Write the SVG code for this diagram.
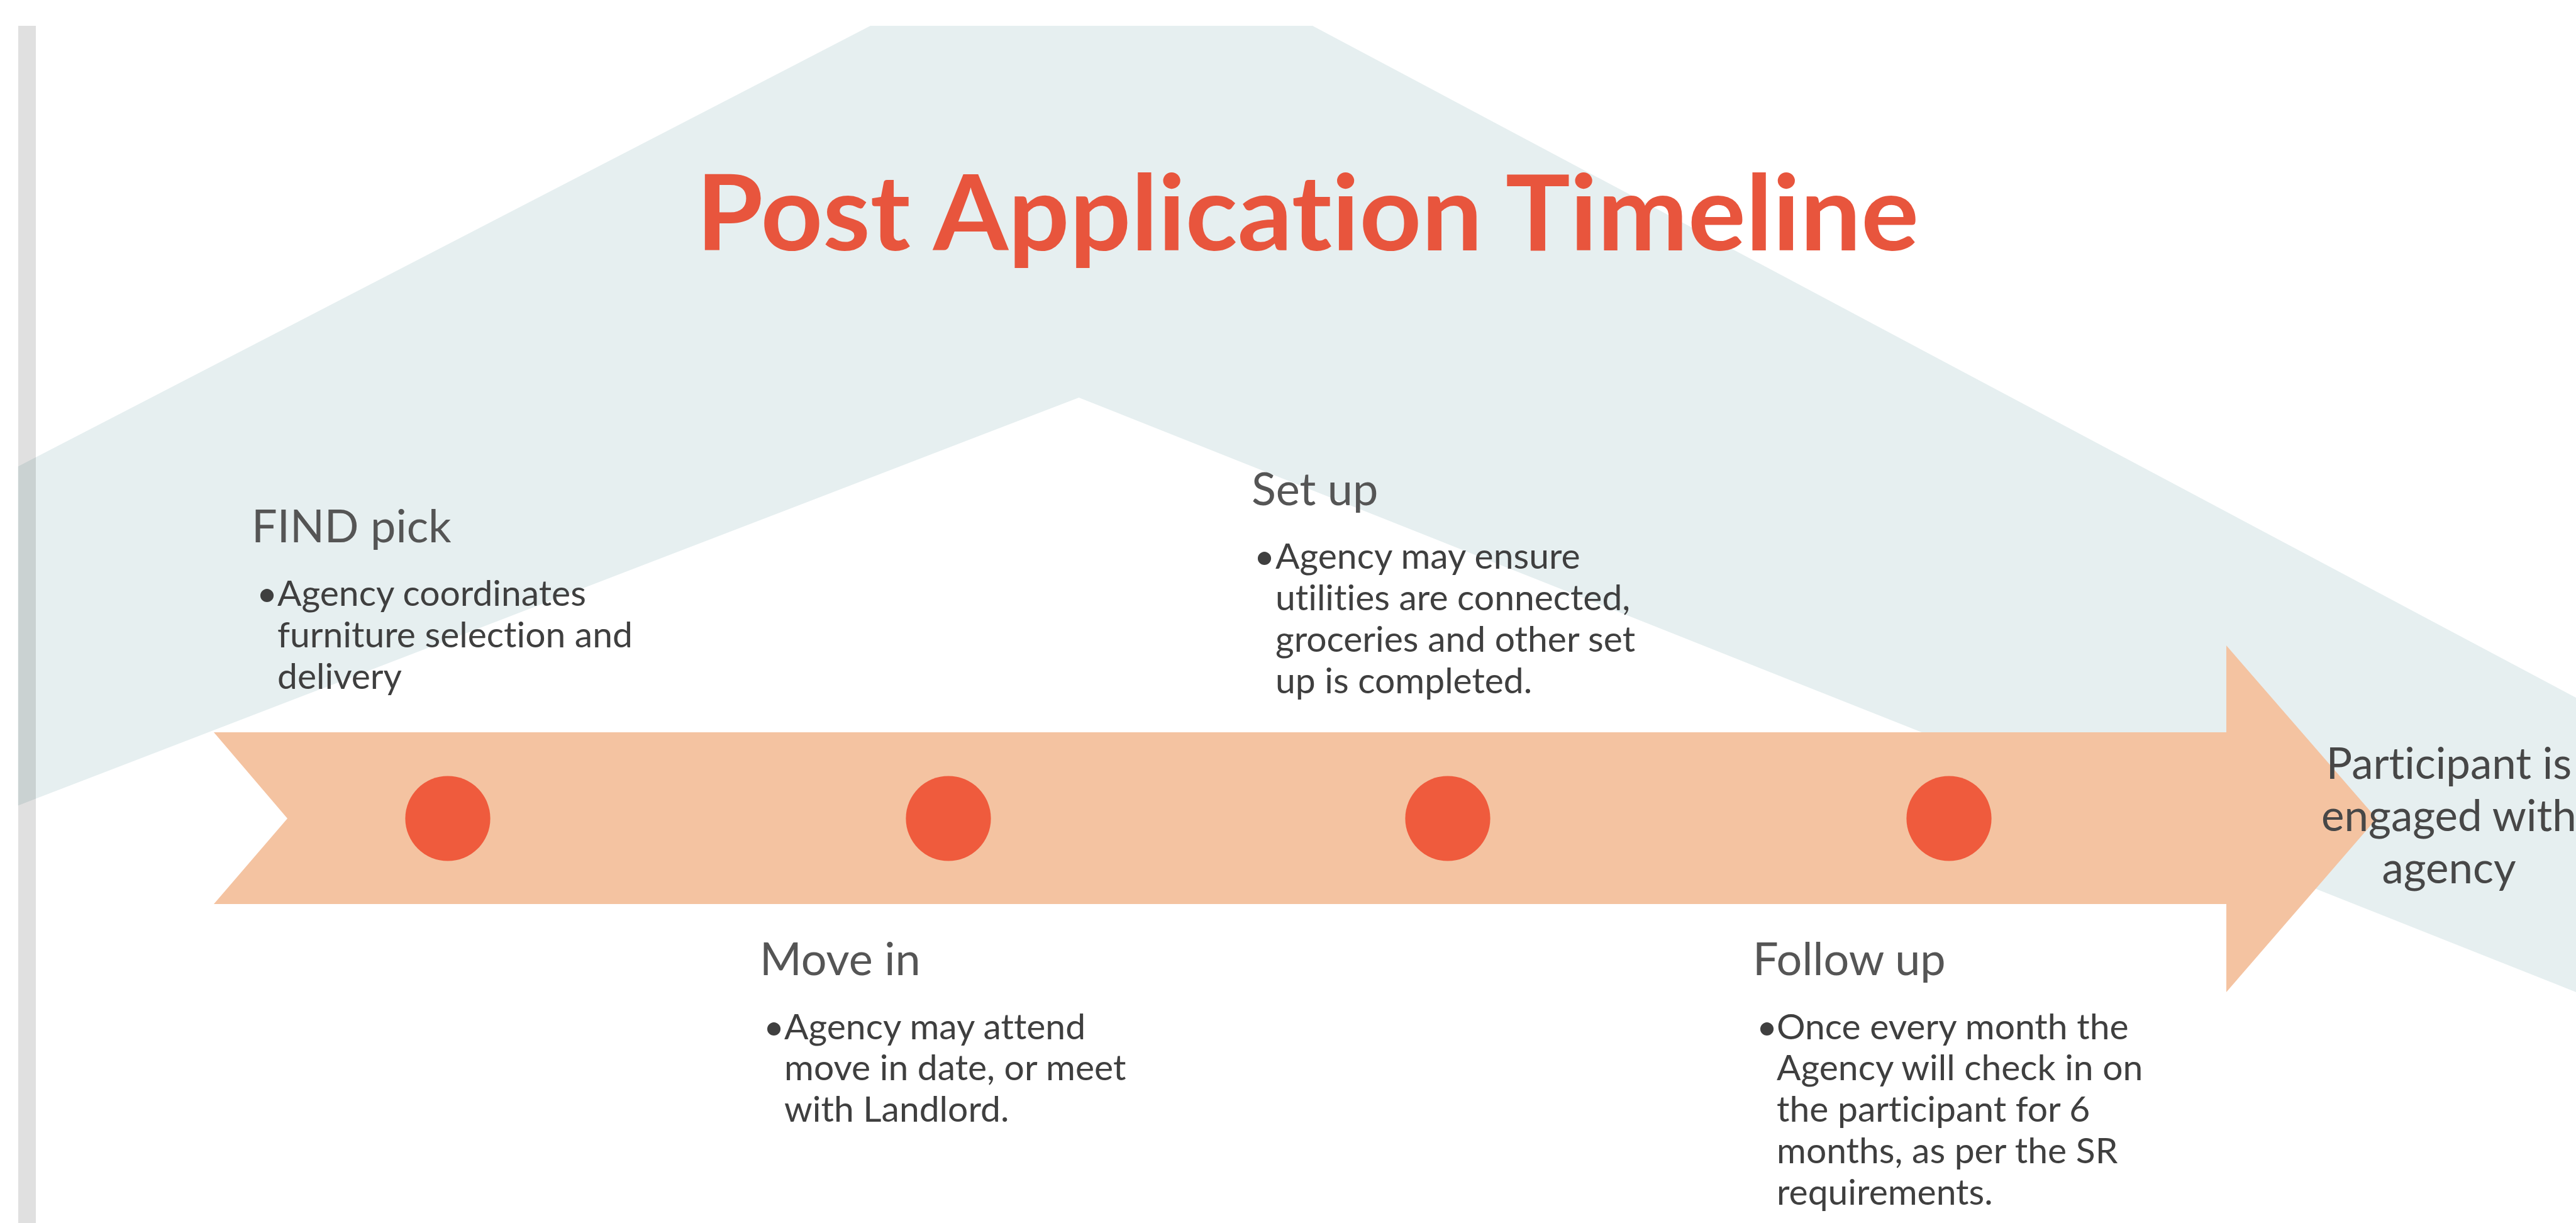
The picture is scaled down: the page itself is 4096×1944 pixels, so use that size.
<svg xmlns="http://www.w3.org/2000/svg" width="4096" height="1944" viewBox="0 0 4096 1944">
  <style>
    text { font-family: Lato, "Liberation Sans", sans-serif; font-variant-ligatures: none; }
    .title { font-weight: 700; font-size: 166px; fill: #e8553d; }
    .head { font-size: 72px; fill: #555555; }
    .body { font-size: 57px; fill: #3f3f3f; }
    .outcome { font-size: 69px; fill: #474747; text-anchor: middle; }
    .dot { fill: #ef5b3d; }
  </style>

  <!-- page background -->
  <rect x="0" y="0" width="4096" height="1944" fill="#ffffff"/>

  <!-- pale chevron band behind the timeline -->
  <g id="bg-chevron">
    <polygon points="28.6,741.6 1384,41 2087,41 4096,1109 4096,1577 1715.5,632 28.6,1280.4" fill="#e6eff0"/>
  </g>

  <!-- left page edge -->
  <rect id="page-edge" x="29" y="41" width="28" height="1903" fill="#000000" fill-opacity="0.12"/>

  <!-- heading -->
  <g id="title">
    <text class="title" x="1107" y="398" textLength="1944" lengthAdjust="spacingAndGlyphs">Post Application Timeline</text>
  </g>

  <!-- timeline arrow -->
  <g id="connectors">
    <polygon id="timeline-arrow" points="340,1164 3540,1164 3540,1026 3779,1301 3540,1577 3540,1437 340,1437 457,1301" fill="#f4c3a1"/>
  </g>

  <!-- milestones -->
  <g id="step-find-pick">
    <circle class="dot" cx="712" cy="1301" r="67.6"/>
    <text class="head" x="400" y="862">FIND pick</text>
    <text class="body" x="408" y="963">•</text>
    <text class="body" x="441" y="963">Agency coordinates</text>
    <text class="body" x="441" y="1029">furniture selection and</text>
    <text class="body" x="441" y="1095">delivery</text>
  </g>

  <g id="step-move-in">
    <circle class="dot" cx="1508" cy="1301" r="67.6"/>
    <text class="head" x="1208" y="1550">Move in</text>
    <text class="body" x="1214" y="1652">•</text>
    <text class="body" x="1247" y="1652">Agency may attend</text>
    <text class="body" x="1247" y="1717">move in date, or meet</text>
    <text class="body" x="1247" y="1783">with Landlord.</text>
  </g>

  <g id="step-set-up">
    <circle class="dot" cx="2302" cy="1301" r="67.6"/>
    <text class="head" x="1990" y="803">Set up</text>
    <text class="body" x="1994" y="904">•</text>
    <text class="body" x="2028" y="904">Agency may ensure</text>
    <text class="body" x="2028" y="970">utilities are connected,</text>
    <text class="body" x="2028" y="1036">groceries and other set</text>
    <text class="body" x="2028" y="1102">up is completed.</text>
  </g>

  <g id="step-follow-up">
    <circle class="dot" cx="3099" cy="1301" r="67.6"/>
    <text class="head" x="2787" y="1550">Follow up</text>
    <text class="body" x="2793" y="1652">•</text>
    <text class="body" x="2825" y="1652">Once every month the</text>
    <text class="body" x="2825" y="1717">Agency will check in on</text>
    <text class="body" x="2825" y="1783">the participant for 6</text>
    <text class="body" x="2825" y="1849">months, as per the SR</text>
    <text class="body" x="2825" y="1915">requirements.</text>
  </g>

  <g id="outcome">
    <text class="outcome" x="3894" y="1238">Participant is</text>
    <text class="outcome" x="3894" y="1321">engaged with</text>
    <text class="outcome" x="3894" y="1404">agency</text>
  </g>
</svg>
